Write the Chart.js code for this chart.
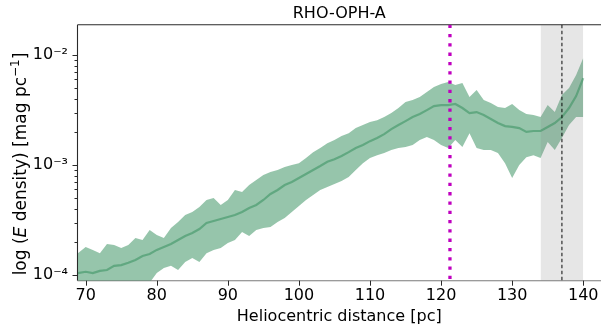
<!DOCTYPE html>
<html>
<head>
<meta charset="utf-8">
<script src="https://cdn.jsdelivr.net/npm/chart.js@4.4.0/dist/chart.umd.min.js"></script>
<style>
  html, body { margin: 0; padding: 0; background: #fff; }
</style>
</head>
<body>
<canvas id="densChart" width="601" height="331"></canvas>
<script>
// distancias heliocentricas (pc)
const distancias = [68.9, 70, 71, 72, 73, 74, 75, 76, 77, 78, 79,
  80, 81, 82, 83, 84, 85, 86, 87, 88, 89,
  90, 91, 92, 93, 94, 95, 96, 97, 98, 99,
  100, 101, 102, 103, 104, 105, 106, 107, 108, 109,
  110, 111, 112, 113, 114, 115, 116, 117, 118, 119,
  120, 121, 122, 123, 124, 125, 126, 127, 128, 129,
  130, 131, 132, 133, 134, 135, 136, 137, 138, 139,
  140]

// densidad de extincion (mag/pc): curva media y limites de la banda
const media = [1.04e-4, 1.07e-4, 1.04e-4, 1.09e-4, 1.11e-4, 1.21e-4, 1.23e-4, 1.29e-4, 1.37e-4, 1.49e-4, 1.55e-4,
  1.69e-4, 1.80e-4, 1.91e-4, 2.08e-4, 2.26e-4, 2.41e-4, 2.62e-4, 2.97e-4, 3.10e-4, 3.23e-4,
  3.37e-4, 3.51e-4, 3.74e-4, 4.07e-4, 4.33e-4, 4.81e-4, 5.45e-4, 5.93e-4, 6.58e-4, 7.00e-4,
  7.62e-4, 8.28e-4, 9.01e-4, 9.79e-4, 1.07e-3, 1.13e-3, 1.21e-3, 1.31e-3, 1.43e-3, 1.52e-3,
  1.65e-3, 1.76e-3, 1.91e-3, 2.12e-3, 2.31e-3, 2.51e-3, 2.73e-3, 2.91e-3, 3.16e-3, 3.44e-3,
  3.51e-3, 3.51e-3, 3.59e-3, 3.30e-3, 2.97e-3, 3.03e-3, 2.85e-3, 2.62e-3, 2.41e-3, 2.26e-3,
  2.22e-3, 2.17e-3, 2.00e-3, 2.04e-3, 2.04e-3, 2.22e-3, 2.41e-3, 2.73e-3, 3.30e-3, 4.24e-3,
  6.18e-3]

const superior = [1.58e-4, 1.80e-4, 1.69e-4, 1.58e-4, 1.91e-4, 1.87e-4, 1.76e-4, 1.87e-4, 2.17e-4, 2.08e-4, 2.56e-4,
  2.31e-4, 2.17e-4, 2.68e-4, 3.03e-4, 3.51e-4, 3.74e-4, 4.15e-4, 4.81e-4, 5.01e-4, 4.33e-4,
  4.81e-4, 5.93e-4, 5.68e-4, 6.58e-4, 7.31e-4, 8.11e-4, 8.64e-4, 9.01e-4, 9.59e-4, 1.00e-3,
  1.04e-3, 1.16e-3, 1.31e-3, 1.43e-3, 1.58e-3, 1.69e-3, 1.84e-3, 1.95e-3, 2.17e-3, 2.31e-3,
  2.46e-3, 2.56e-3, 2.73e-3, 2.97e-3, 3.30e-3, 3.74e-3, 3.90e-3, 4.15e-3, 4.61e-3, 5.12e-3,
  5.45e-3, 5.68e-3, 5.34e-3, 5.56e-3, 4.15e-3, 4.81e-3, 3.90e-3, 3.66e-3, 3.37e-3, 3.30e-3,
  3.59e-3, 3.16e-3, 2.91e-3, 2.85e-3, 2.73e-3, 3.51e-3, 3.03e-3, 4.33e-3, 5.01e-3, 6.58e-3,
  9.39e-3]

const inferior = [7.3e-5, 6.6e-5, 5.9e-5, 5.9e-5, 5.9e-5, 5.9e-5, 5.9e-5, 5.9e-5, 5.9e-5, 6.6e-5, 8.5e-5,
  1.04e-4, 1.16e-4, 1.21e-4, 1.11e-4, 1.31e-4, 1.43e-4, 1.31e-4, 1.58e-4, 1.69e-4, 1.76e-4,
  1.95e-4, 2.08e-4, 2.46e-4, 2.26e-4, 2.56e-4, 2.68e-4, 2.73e-4, 3.03e-4, 3.30e-4, 3.74e-4,
  4.24e-4, 4.81e-4, 5.34e-4, 5.93e-4, 6.31e-4, 6.72e-4, 7.15e-4, 7.78e-4, 9.01e-4, 1.04e-3,
  1.16e-3, 1.23e-3, 1.29e-3, 1.37e-3, 1.43e-3, 1.46e-3, 1.52e-3, 1.69e-3, 1.80e-3, 1.69e-3,
  1.52e-3, 1.43e-3, 1.69e-3, 1.46e-3, 1.95e-3, 1.43e-3, 1.37e-3, 1.37e-3, 1.29e-3, 1.04e-3,
  7.62e-4, 1.00e-3, 1.18e-3, 1.23e-3, 1.16e-3, 1.62e-3, 1.37e-3, 1.76e-3, 2.31e-3, 2.73e-3,
  2.73e-3]

// lineas verticales y franja gris
const lineaMagenta = 121.25
const lineaDiscontinua = 137
const franjaInicio = 134
const franjaFin = 140

// ejes
const xMin = 68.85
const xMax = 142.5
const yMin = 8.87e-5
const yMax = 1.89e-2
const xTicks = [70, 80, 90, 100, 110, 120, 130, 140]
const yMayores = [1e-4, 1e-3, 1e-2]
const yEtiquetas = ['10\u207B\u2074', '10\u207B\u00B3', '10\u207B\u00B2']
const yMenores = [2e-4, 3e-4, 4e-4, 5e-4, 6e-4, 7e-4, 8e-4, 9e-4,
  2e-3, 3e-3, 4e-3, 5e-3, 6e-3, 7e-3, 8e-3, 9e-3]

const fuente = 'DejaVu Sans'
const puntos = (vals) => distancias.map((d, i) => ({ x: d, y: vals[i] }))

// sin relleno extra de Chart.js alrededor del area del grafico
const sinPadding = (s) => { s.paddingLeft = 0; s.paddingRight = 0; s.paddingTop = 0; s.paddingBottom = 0 }

// marco, marcas de los ejes
const marco = {
  id: 'marco',
  beforeDatasetsDraw(chart) {
    const { ctx, chartArea: a, scales: { x, y } } = chart
    ctx.save()
    ctx.lineWidth = 1.1
    ctx.strokeStyle = '#2a2a2a'
    ctx.beginPath()
    ctx.moveTo(a.left, a.top); ctx.lineTo(a.right, a.top)
    ctx.moveTo(a.left, a.top); ctx.lineTo(a.left, a.bottom)
    ctx.stroke()
    ctx.strokeStyle = '#7a7a7a'
    ctx.beginPath()
    ctx.moveTo(a.left, a.bottom); ctx.lineTo(a.right, a.bottom)
    ctx.stroke()

    ctx.strokeStyle = '#2a2a2a'
    ctx.lineWidth = 1
    ctx.beginPath()
    xTicks.forEach(v => {
      const px = Math.round(x.getPixelForValue(v)) + 0.5
      ctx.moveTo(px, a.bottom); ctx.lineTo(px, a.bottom + 5)
    })
    yMayores.forEach(v => {
      const py = Math.round(y.getPixelForValue(v)) + 0.5
      ctx.moveTo(a.left, py); ctx.lineTo(a.left - 5, py)
    })
    yMenores.forEach(v => {
      const py = Math.round(y.getPixelForValue(v)) + 0.5
      ctx.moveTo(a.left, py); ctx.lineTo(a.left - 3, py)
    })
    ctx.stroke()
    ctx.restore()
  },
  afterDraw(chart) {
    // titulo del eje y con E en cursiva y superindice
    const { ctx } = chart
    const partes = [
      { t: 'log (', f: '17px "' + fuente + '"', dy: 0 },
      { t: 'E', f: 'italic 17px "' + fuente + '"', dy: 0 },
      { t: ' density) [mag pc', f: '17px "' + fuente + '"', dy: 0 },
      { t: '\u22121', f: '12px "' + fuente + '"', dy: -7 },
      { t: ']', f: '17px "' + fuente + '"', dy: 0 }
    ]
    ctx.save()
    let total = 0
    partes.forEach(p => { ctx.font = p.f; p.w = ctx.measureText(p.t).width; total += p.w })
    ctx.translate(26, 164)
    ctx.rotate(-Math.PI / 2)
    ctx.fillStyle = '#000'
    ctx.textBaseline = 'alphabetic'
    ctx.textAlign = 'left'
    let cx = -total / 2
    partes.forEach(p => {
      ctx.font = p.f
      ctx.fillText(p.t, cx, p.dy)
      cx += p.w
    })
    ctx.restore()
  }
}

const ctx = document.getElementById('densChart').getContext('2d')
let densChart = new Chart(ctx, {
  type: 'line',
  data: {
    datasets: [
      {
        label: 'magenta',
        data: [{ x: lineaMagenta, y: yMax }, { x: lineaMagenta, y: yMin }],
        borderColor: '#bf00bf',
        borderWidth: 3.3,
        borderDash: [3.3, 6],
        borderCapStyle: 'butt',
        fill: false,
        order: 0
      },
      {
        label: 'discontinua',
        data: [{ x: lineaDiscontinua, y: yMax }, { x: lineaDiscontinua, y: yMin }],
        borderColor: 'rgba(0,0,0,0.75)',
        borderWidth: 1.3,
        borderDash: [3.5, 2.5],
        fill: false,
        order: 1
      },
      {
        label: 'media',
        data: puntos(media),
        borderColor: 'rgba(46,139,87,0.5)',
        borderWidth: 2.2,
        fill: false,
        order: 2
      },
      {
        label: 'franja',
        data: [{ x: franjaInicio, y: yMax }, { x: franjaFin, y: yMax }],
        borderWidth: 0,
        borderColor: 'rgba(0,0,0,0)',
        backgroundColor: 'rgba(128,128,128,0.2)',
        fill: 'start',
        order: 3
      },
      {
        label: 'superior',
        data: puntos(superior),
        borderWidth: 0,
        borderColor: 'rgba(0,0,0,0)',
        backgroundColor: 'rgba(46,139,87,0.5)',
        fill: '+1',
        order: 4
      },
      {
        label: 'inferior',
        data: puntos(inferior),
        borderWidth: 0,
        borderColor: 'rgba(0,0,0,0)',
        fill: false,
        order: 5
      }
    ]
  },
  options: {
    responsive: false,
    animation: false,
    events: [],
    elements: { point: { radius: 0 }, line: { tension: 0 } },
    layout: { padding: 0 },
    plugins: {
      legend: { display: false },
      tooltip: { enabled: false },
      title: {
        display: true,
        text: 'RHO-OPH-A',
        fullSize: false,
        color: '#000',
        font: { family: fuente, size: 16, weight: 'normal' },
        padding: { top: 4.2, bottom: 1.3 }
      }
    },
    scales: {
      x: {
        type: 'linear',
        min: xMin,
        max: xMax,
        grid: { display: false, drawTicks: false },
        border: { display: false },
        afterBuildTicks: (s) => { s.ticks = xTicks.map(v => ({ value: v })) },
        afterFit: (s) => { s.height = 50.3; sinPadding(s) },
        ticks: {
          color: '#000',
          autoSkip: false,
          maxRotation: 0,
          padding: 6,
          font: { family: fuente, size: 16 },
          callback: (v) => String(v)
        },
        title: {
          display: true,
          text: 'Heliocentric distance [pc]',
          color: '#000',
          font: { family: fuente, size: 16 },
          padding: { top: 0, bottom: 4.2 }
        }
      },
      y: {
        type: 'logarithmic',
        min: yMin,
        max: yMax,
        grid: { display: false, drawTicks: false },
        border: { display: false },
        afterBuildTicks: (s) => { s.ticks = yMayores.concat(yMenores).map(v => ({ value: v })) },
        afterFit: (s) => { s.width = 77.5; sinPadding(s) },
        ticks: {
          color: '#000',
          autoSkip: false,
          padding: 9.5,
          font: { family: fuente, size: 16 },
          callback: (v) => {
            const i = yMayores.indexOf(v)
            return i >= 0 ? yEtiquetas[i] : ''
          }
        }
      }
    }
  },
  plugins: [marco]
})
</script>
</body>
</html>
